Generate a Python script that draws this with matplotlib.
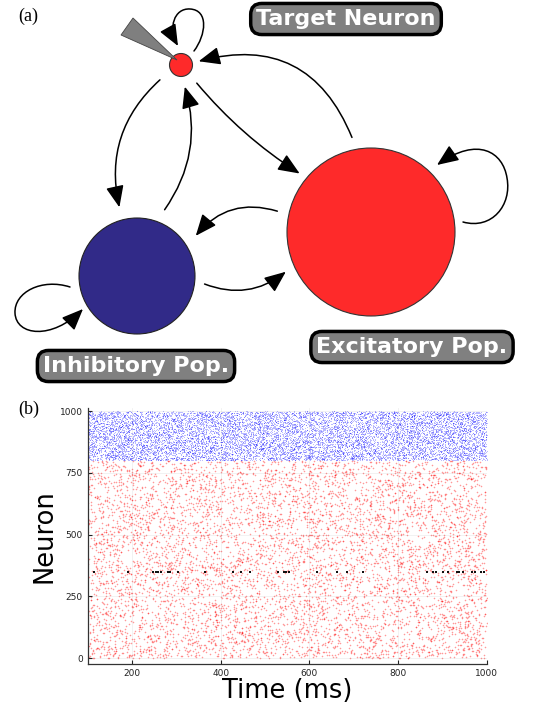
import matplotlib
matplotlib.use("Agg")
import matplotlib.pyplot as plt
import numpy as np
from matplotlib.patches import Circle, Polygon, FancyArrowPatch
from matplotlib.path import Path


# raster panel (b)
N_EXC = 800
N_INH = 200
T_START = 100
T_END = 1000
RATE_EXC_HZ = 9.5
RATE_INH_HZ = 70.0
TARGET_ID = 350
# spike times of the target neuron (ms)
target_spikes = [115, 191, 248, 253, 259, 265, 281, 285, 303, 364,
                 428, 445, 466, 529, 542, 547, 553, 617, 662, 684, 721,
                 865, 880, 885, 902, 913, 932, 937, 946, 968, 973, 987, 994]

x_ticks = [200, 400, 600, 800, 1000]
y_ticks = [0, 250, 500, 750, 1000]

# diagram panel (a), in pixel coordinates of the figure
node_names = ["Target Neuron", "Excitatory Pop.", "Inhibitory Pop."]


def population_spikes(first_id, count, rate_hz, seed):
    # background activity of a population (cannot be read dot by dot)
    rng = np.random.default_rng(seed)
    n = int(count * (T_END - T_START) / 1000 * rate_hz)
    times = rng.uniform(T_START, T_END, n)
    ids = rng.integers(first_id, first_id + count, n)
    return times, ids


ARROW_STYLE = "-|>,head_length=1.2,head_width=0.5"


def arrow(ax, start, end, rad):
    ax.add_patch(
        FancyArrowPatch(
            start, end,
            connectionstyle=f"arc3,rad={rad}",
            arrowstyle=ARROW_STYLE,
            mutation_scale=11, lw=1.1, color="black",
        )
    )


def loop(ax, points):
    codes = [Path.MOVETO] + [Path.CURVE4] * (len(points) - 1)
    ax.add_patch(
        FancyArrowPatch(
            path=Path(points, codes),
            arrowstyle=ARROW_STYLE,
            mutation_scale=11, lw=1.1, color="black",
        )
    )


fig = plt.figure(figsize=(5.33, 7.16), dpi=100)

ax_d = fig.add_axes([0, 0, 1, 1])
ax_d.set_xlim(0, 533)
ax_d.set_ylim(716, 0)
ax_d.axis("off")

ax_d.text(18, 16, "(a)", fontsize=13, family="Liberation Serif",
          ha="left", va="center")
ax_d.text(18, 409, "(b)", fontsize=13, family="Liberation Serif",
          ha="left", va="center")

# populations
ax_d.add_patch(Circle((371, 232), 84, fc="#fe2a2a", ec="#333333", lw=0.8))
ax_d.add_patch(Circle((137, 276), 58, fc="#312a88", ec="#222222", lw=0.8))
ax_d.add_patch(Circle((181, 65), 11.5, fc="#fe2a2a", ec="#333333", lw=0.8))

# electrode
ax_d.add_patch(Polygon([(121, 35), (133, 18), (177, 60)], closed=True,
                       fc="#7f7f7f", ec="#444444", lw=0.6))

# connections
arrow(ax_d, (353, 140), (196, 62), 0.45)
arrow(ax_d, (195, 81), (302, 175), 0.08)
arrow(ax_d, (162, 78), (120, 210), 0.3)
arrow(ax_d, (163, 212), (184, 84), 0.25)
arrow(ax_d, (280, 212), (194, 238), 0.35)
arrow(ax_d, (202, 283), (288, 270), 0.3)

loop(ax_d, [(194, 51), (206, 35), (209, 10), (190, 9),
            (174, 8), (168, 28), (178, 46)])
loop(ax_d, [(463, 222), (492, 230), (512, 205), (507, 178),
            (503, 152), (478, 136), (437, 165)])
loop(ax_d, [(70, 287), (42, 278), (14, 292), (15, 313),
            (16, 336), (52, 340), (83, 309)])

label_pos = [(346, 19), (412, 347), (136, 366)]
for name, (x, y) in zip(node_names, label_pos):
    ax_d.text(x, y, name, fontsize=16, fontweight="bold", color="white",
              ha="center", va="center",
              bbox=dict(boxstyle="round,pad=0.25,rounding_size=0.5",
                        fc="#808080", ec="black", lw=2.5))

# raster
ax_r = fig.add_axes([0.1645, 0.0722, 0.7486, 0.3575])

exc_t, exc_i = population_spikes(0, N_EXC, RATE_EXC_HZ, 1)
inh_t, inh_i = population_spikes(N_EXC, N_INH, RATE_INH_HZ, 2)

ax_r.scatter(exc_t, exc_i, s=1.3, color="#ff0000", alpha=0.4,
             linewidths=0, rasterized=True)
ax_r.scatter(inh_t, inh_i, s=0.6, color="#0000ff", alpha=0.3,
             linewidths=0, rasterized=True)
ax_r.scatter(target_spikes, [TARGET_ID] * len(target_spikes), s=4,
             marker="s", color="#111111", linewidths=0)

ax_r.set_xlim(T_START, T_END)
ax_r.set_ylim(-25, 1011)
ax_r.set_xticks(x_ticks)
ax_r.set_yticks(y_ticks)
ax_r.tick_params(labelsize=6.5, direction="in", length=3, width=0.8,
                 colors="#222222")
ax_r.grid(True, color="#000000", alpha=0.06, lw=0.6)
for side in ["top", "right"]:
    ax_r.spines[side].set_visible(False)
for side in ["left", "bottom"]:
    ax_r.spines[side].set_color("#333333")
    ax_r.spines[side].set_linewidth(0.9)
ax_r.set_xlabel("Time (ms)", fontsize=18.5, labelpad=0)
ax_r.set_ylabel("Neuron", fontsize=18.5, labelpad=2)

fig.savefig("out.png", dpi=100)
